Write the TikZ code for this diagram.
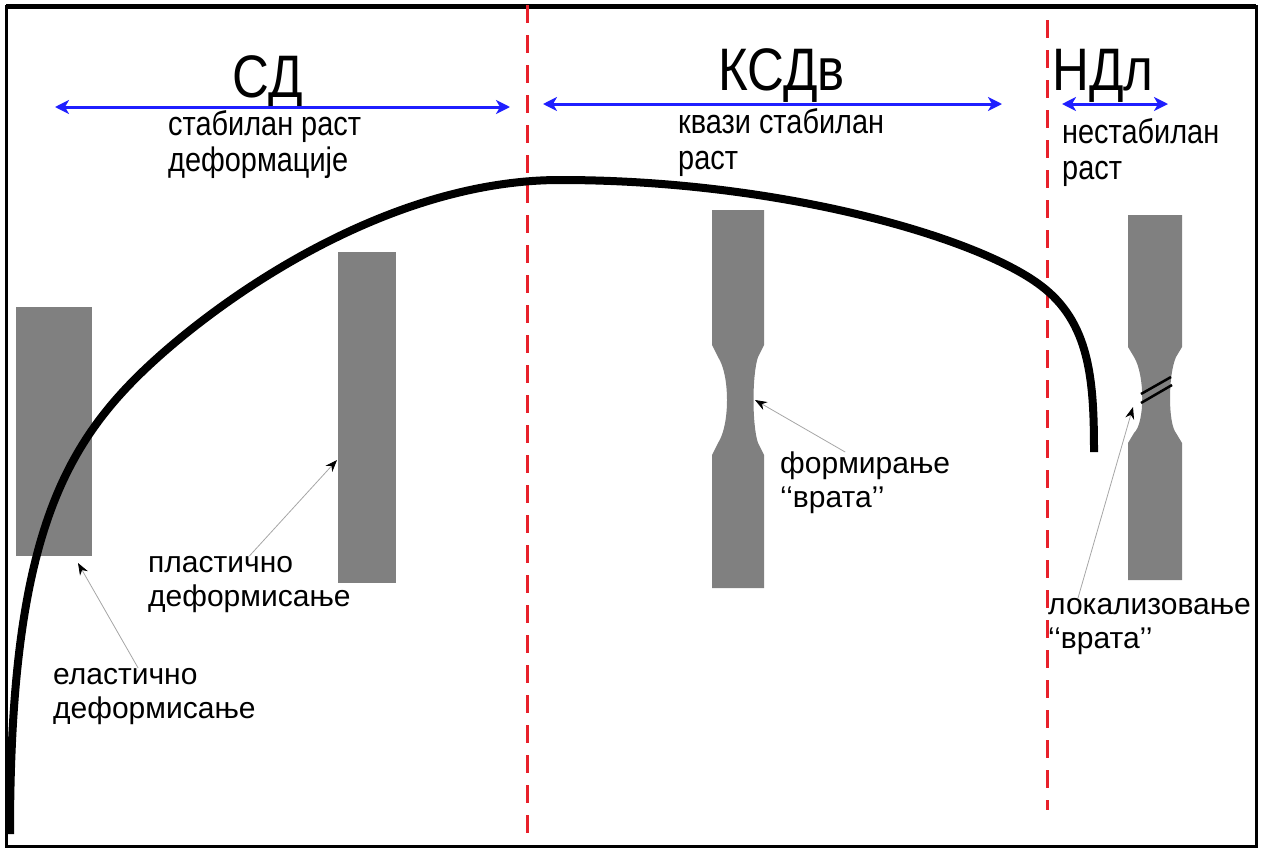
\documentclass[tikz,border=0pt]{standalone}
\usepackage{fontspec}
\setmainfont{Liberation Sans}
\newfontfamily\narrowfont[FakeStretch=0.85]{Liberation Sans}
\usetikzlibrary{arrows.meta}
\definecolor{specgray}{HTML}{808080}
\definecolor{spanblue}{HTML}{1F1FFF}
\definecolor{zonered}{HTML}{E8202A}
\tikzset{
  spanarrow/.style={spanblue, line width=3pt, {Stealth[length=14pt,width=14pt,inset=4pt]}-{Stealth[length=14pt,width=14pt,inset=4pt]}},
  zoneline/.style={zonered, line width=3pt, dash pattern=on 18pt off 12pt},
  pointarrow/.style={black!35, line width=0.8pt, -{Stealth[length=12pt,width=9pt,black]}},
  remarktext/.style={font=\fontsize{30}{34}\selectfont, align=left, inner sep=0pt},
  headtext/.style={font=\narrowfont\fontsize{60}{60}\selectfont, inner sep=0pt},
  phasetext/.style={font=\narrowfont\fontsize{34}{36}\selectfont, align=left, inner sep=0pt}
}
\begin{document}
\begin{tikzpicture}[x=1pt,y=-1pt]
\useasboundingbox (0,0) rectangle (1263,852);
% frame
\draw[line width=3pt] (6,6) rectangle (1256,846);
\draw[line width=5pt] (6,6) -- (1256,6);
% zone borders
\draw[zoneline] (527,5) -- (527,835);
\draw[zoneline] (1047,20) -- (1047,810);
% headings and spans
\node[headtext, anchor=base] (sd) at (268,97) {СД};
\node[headtext, anchor=base west] (ksd) at (718,90) {КСДв};
\node[headtext, anchor=base west] (nd) at (1052,90) {НДл};
\coordinate (sdL) at (55,107); \coordinate (sdR) at (510,107);
\coordinate (ksdL) at (543,104); \coordinate (ksdR) at (1002,104);
\coordinate (ndL) at (1062,104); \coordinate (ndR) at (1168,104);
\draw[spanarrow] (sdL) -- (sdR);
\draw[spanarrow] (ksdL) -- (ksdR);
\draw[spanarrow] (ndL) -- (ndR);
\node[phasetext, anchor=north west] (stable) at (168,110) {стабилан раст\\деформације};
\node[phasetext, anchor=north west] (quasi) at (678,108) {квази стабилан\\раст};
\node[phasetext, anchor=north west] (unstable) at (1062,118) {нестабилан\\раст};
% specimens
\fill[specgray] (16,307) rectangle (92,556);
\fill[specgray] (338,252) rectangle (396,583);
\fill[specgray] (712,210) -- (764,210) -- (764,345) -- (758,357)
  .. controls (752,375) and (752,425) .. (758,443) -- (764,455) -- (764,588)
  -- (712,588) -- (712,455) -- (718,443)
  .. controls (730,425) and (730,375) .. (718,357) -- (712,345) -- cycle;
\fill[specgray] (1128,215) -- (1182,215) -- (1182,347) -- (1176,357)
  .. controls (1168,375) and (1168,423) .. (1176,433) -- (1182,443) -- (1182,580)
  -- (1128,580) -- (1128,443) -- (1134,433)
  .. controls (1145,423) and (1145,375) .. (1134,357) -- (1128,347) -- cycle;
\draw[line width=2.5pt] (1141,394) -- (1171,377);
\draw[line width=2.5pt] (1141,403) -- (1172,385);
% flow curve
\draw[line width=8pt] (10,834) .. controls (10,560) and (56,458) .. (136,378)
  .. controls (206,308) and (380,180) .. (560,180)
  .. controls (780,180) and (976,237) .. (1040,285)
  .. controls (1090,322) and (1094,380) .. (1094,452);
% remarks
\node[remarktext, anchor=north west] (elastic) at (53,668) {еластично\\деформисање};
\node[remarktext, anchor=north west] (plastic) at (148,556) {пластично\\деформисање};
\node[remarktext, anchor=north west] (forming) at (780,452) {формирање\\‘‘врата’’};
\node[remarktext, anchor=north west] (localizing) at (1048,598) {локализовање\\‘‘врата’’};
\coordinate (elasticTip) at (78,563);
\coordinate (plasticTip) at (337,460);
\coordinate (formingTip) at (755,400);
\coordinate (localizingTip) at (1133,407);
\draw[pointarrow] (elastic) -- (elasticTip);
\draw[pointarrow] (plastic.north) -- (plasticTip);
\draw[pointarrow] ([xshift=-20pt]forming.north) -- (formingTip);
\draw[pointarrow] ([xshift=30pt]localizing.north west) -- (localizingTip);
\end{tikzpicture}
\end{document}
